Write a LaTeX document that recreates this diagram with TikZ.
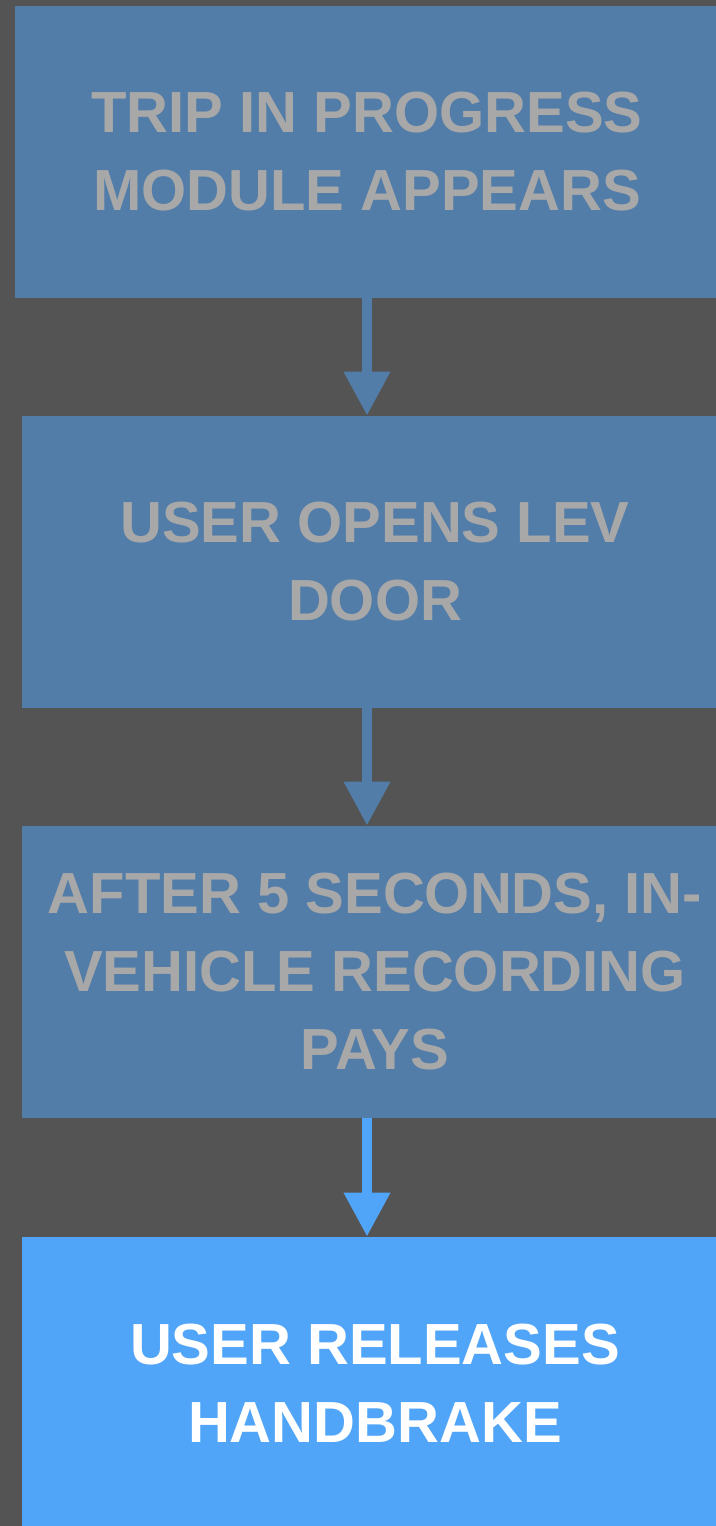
\documentclass[tikz,border=0pt]{standalone}
\usepackage{fontspec}
\setmainfont{Liberation Sans}
\usetikzlibrary{positioning,arrows.meta}
\definecolor{bgdark}{HTML}{545454}
\definecolor{boxblue}{HTML}{527DA8}
\definecolor{hotblue}{HTML}{51A5F8}
\definecolor{dimtext}{HTML}{A8A8A8}

\begin{document}
\begin{tikzpicture}[on grid,
    stage/.style={rectangle, fill=boxblue, text=dimtext, inner sep=0pt,
      minimum width=353pt, minimum height=146pt, align=center,
      font=\fontsize{29}{39}\selectfont\bfseries},
    current/.style={stage, fill=hotblue, text=white},
    flow/.style={line width=5pt, draw=boxblue, -{Triangle[width=22pt,length=22pt]}}]
    \useasboundingbox (0,0) rectangle (358pt,-763pt);
    \clip (0,0) rectangle (358pt,-763pt);
    \fill[bgdark] (0,0) rectangle (358pt,-763pt);

    \node[stage, minimum width=352pt] (s1) at (183.5pt,-76pt) {TRIP IN PROGRESS\\MODULE APPEARS};
    \node[stage] (s2) [below=205pt of s1, xshift=4pt] {USER OPENS LEV\\DOOR};
    \node[stage] (s3) [below=205pt of s2] {AFTER 5 SECONDS, IN-\\VEHICLE RECORDING\\PAYS};
    \node[current] (s4) [below=205.5pt of s3] {USER RELEASES\\HANDBRAKE};

    \draw[flow] (s1.south) -- (s1.south |- s2.north);
    \draw[flow] (s2.south -| s1.south) -- (s3.north -| s1.south);
    \draw[flow, draw=hotblue] (s3.south -| s1.south) -- (s4.north -| s1.south);
\end{tikzpicture}
\end{document}
